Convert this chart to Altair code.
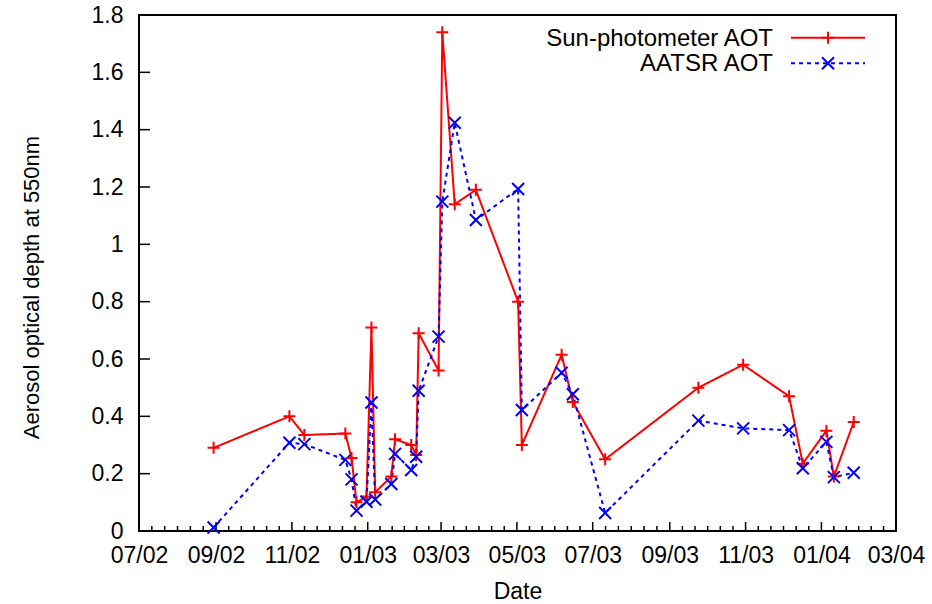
import altair as alt
import pandas as pd

# ---------------- data ----------------
dates = ["2002-08-30", "2002-10-30", "2002-11-11", "2002-12-14", "2002-12-19",
         "2002-12-23", "2002-12-31", "2003-01-04", "2003-01-07", "2003-01-20",
         "2003-01-23", "2003-02-05", "2003-02-09", "2003-02-11", "2003-02-27",
         "2003-03-02", "2003-03-12", "2003-03-29", "2003-05-02", "2003-05-05",
         "2003-06-06", "2003-06-15", "2003-07-11", "2003-09-24", "2003-10-30",
         "2003-12-06", "2003-12-17", "2004-01-05", "2004-01-11", "2004-01-27"]
sun_aot = [0.29, 0.40, 0.335, 0.34, 0.255, 0.10, 0.12, 0.71, 0.135, 0.19,
           0.32, 0.30, 0.265, 0.69, 0.56, 1.74, 1.14, 1.19, 0.80, 0.30,
           0.615, 0.45, 0.25, 0.50, 0.58, 0.47, 0.235, 0.35, 0.19, 0.38]
aatsr_aot = [0.012, 0.308, 0.303, 0.248, 0.18, 0.071, 0.102, 0.448, 0.11, 0.164,
             0.269, 0.213, 0.259, 0.489, 0.678, 1.149, 1.424, 1.085, 1.193, 0.422,
             0.552, 0.477, 0.063, 0.385, 0.358, 0.352, 0.219, 0.311, 0.188, 0.203]
series = ["Sun-photometer AOT", "AATSR AOT"]
major_ticks = ["2002-07-01", "2002-09-01", "2002-11-01", "2003-01-01", "2003-03-01",
               "2003-05-01", "2003-07-01", "2003-09-01", "2003-11-01", "2004-01-01",
               "2004-03-01"]
y_ticks = [0, 0.2, 0.4, 0.6, 0.8, 1.0, 1.2, 1.4, 1.6, 1.8]

# ---------------- tables ----------------
rows = []
for d, s, a in zip(dates, sun_aot, aatsr_aot):
    rows.append({"date": d + "T00:00:00", "aot": s, "series": series[0]})
    rows.append({"date": d + "T00:00:00", "aot": a, "series": series[1]})
df = pd.DataFrame(rows)

maj = pd.to_datetime(major_ticks)
minor = []
for a, b in zip(maj[:-1], maj[1:]):
    for k in range(1, 6):
        minor.append((a + (b - a) * k / 6).strftime("%Y-%m-%dT%H:%M:%S"))
major_df = pd.DataFrame({"date": [m + "T00:00:00" for m in major_ticks]})
minor_df = pd.DataFrame({"date": minor})
ytick_df = pd.DataFrame({"aot": y_ticks})
legend_df = pd.DataFrame({"series": series})

W, H = 757, 516
FONT = "Liberation Sans"
RED, BLUE = "#ff0000", "#0000ff"
PLUS = "M-1,0L1,0M0,-1L0,1"
CROSS = "M-1,-1L1,1M-1,1L1,-1"

x_enc = alt.X(
    "date:T",
    scale=alt.Scale(domain=[alt.DateTime(year=2002, month=7, date=1),
                            alt.DateTime(year=2004, month=3, date=1)]),
    axis=alt.Axis(
        values=[alt.DateTime(year=int(m[:4]), month=int(m[5:7]), date=1) for m in major_ticks],
        format="%m/%y", ticks=False, domain=False, grid=False,
        labelFont=FONT, labelFontSize=23, labelColor="black", labelPadding=13,
        labelOverlap=False, labelFlush=False,
        title="Date", titleFont=FONT, titleFontSize=23, titleFontWeight="normal",
        titleColor="black", titlePadding=13,
    ),
)
y_enc = alt.Y(
    "aot:Q",
    scale=alt.Scale(domain=[0, 1.8], nice=False, zero=False),
    axis=alt.Axis(
        values=y_ticks, format=".1~f", ticks=False, domain=False, grid=False,
        labelFont=FONT, labelFontSize=23, labelColor="black", labelPadding=16,
        title="Aerosol optical depth at 550nm", titleFont=FONT, titleFontSize=22,
        titleFontWeight="normal", titleColor="black", titlePadding=48,
        titleY=H / 2 + 14,
    ),
)

color = alt.Color("series:N", scale=alt.Scale(domain=series, range=[RED, BLUE]), legend=None)

lines = alt.Chart(df).mark_line(strokeWidth=2).encode(
    x=x_enc, y=y_enc, color=color,
    strokeDash=alt.StrokeDash("series:N",
                              scale=alt.Scale(domain=series, range=[[1, 0], [4, 4]]),
                              legend=None),
    order="date:T",
)
points = alt.Chart(df).mark_point(filled=False, strokeWidth=2, size=144, opacity=1).encode(
    x=x_enc, y=y_enc, color=color,
    shape=alt.Shape("series:N", scale=alt.Scale(domain=series, range=[PLUS, CROSS]), legend=None),
)

# inward ticks (gnuplot style)
major_rules = alt.Chart(major_df).mark_rule(color="black", strokeWidth=1.5).encode(
    x=x_enc, y=alt.value(H), y2=alt.value(H - 9))
minor_rules = alt.Chart(minor_df).mark_rule(color="black", strokeWidth=1.5).encode(
    x=x_enc, y=alt.value(H), y2=alt.value(H - 5))
y_rules = alt.Chart(ytick_df).mark_rule(color="black", strokeWidth=1.5).encode(
    y=y_enc, x=alt.value(0), x2=alt.value(11))

# legend (labels left of samples, as in gnuplot)
legend_layers = []
styles = [(RED, [1, 0], PLUS), (BLUE, [4, 4], CROSS)]
for i, (name, (col, dash, shp)) in enumerate(zip(series, styles)):
    src = alt.Chart(legend_df).transform_filter(alt.datum.series == name)
    ly = 22.8 + 25.5 * i
    legend_layers.append(src.mark_text(align="right", baseline="middle", font=FONT,
                                       fontSize=24, color="black").encode(
        text="series:N", x=alt.value(634), y=alt.value(ly + 1)))
    legend_layers.append(src.mark_rule(color=col, strokeWidth=2, strokeDash=dash).encode(
        x=alt.value(652), x2=alt.value(726), y=alt.value(ly)))
    legend_layers.append(src.mark_point(shape=shp, filled=False, color=col, strokeWidth=2,
                                        size=144, opacity=1).encode(
        x=alt.value(689), y=alt.value(ly)))

chart = alt.layer(major_rules, minor_rules, y_rules, lines, points, *legend_layers).properties(
    width=W, height=H,
    autosize=alt.AutoSizeParams(type="none"),
    padding={"left": 139, "top": 15, "right": 36, "bottom": 73},
    background="white",
).configure_view(stroke="black", strokeWidth=2)

chart.save("out.html", embed_options={"renderer": "svg", "actions": False})
